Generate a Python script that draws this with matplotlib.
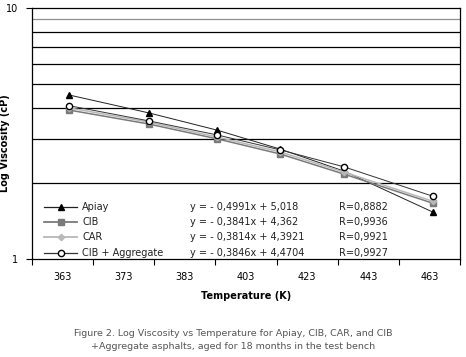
import numpy as np
import matplotlib.pyplot as plt

# category slots on the x axis, labels sit in the middle of each slot
temp_labels = ["363", "373", "383", "403", "423", "443", "463"]
# point positions in slot units
x_pos = [0.61, 1.91, 3.03, 4.06, 5.1, 6.55]

apiay = [4.50, 3.82, 3.26, 2.74, 2.24, 1.54]
cib = [3.92, 3.45, 3.01, 2.62, 2.18, 1.67]
car = [4.00, 3.51, 3.06, 2.67, 2.22, 1.70]
cib_agg = [4.08, 3.55, 3.12, 2.72, 2.33, 1.78]

names = ["Apiay", "CIB", "CAR", "CIB + Aggregate"]
equations = ["y = - 0,4991x + 5,018", "y = - 0,3841x + 4,362",
             "y = - 0,3814x + 4,3921", "y = - 0,3846x + 4,4704"]
r_values = ["R=0,8882", "R=0,9936", "R=0,9921", "R=0,9927"]

fig = plt.figure(figsize=(4.66, 3.57), dpi=100)
ax = fig.add_axes([0.0687, 0.2745, 0.9185, 0.7031])

ax.set_yscale("log")
ax.set_ylim(1, 10)
ax.set_xlim(0, 7)

# horizontal grid lines at 2..9
for v in range(2, 10):
	ax.axhline(v, color="#909090" if v == 9 else "black", lw=0.9, zorder=1)

styles = [
	(apiay, dict(color="#222222", marker="^", ms=4.5, mfc="black", mec="black", lw=0.7)),
	(cib, dict(color="#7a7a7a", marker="s", ms=4.5, mfc="#7a7a7a", mec="#7a7a7a", lw=1.1)),
	(car, dict(color="#b8b8b8", marker="D", ms=3.2, mfc="#b8b8b8", mec="#b8b8b8", lw=1.1)),
	(cib_agg, dict(color="#333333", marker="o", ms=4.5, mfc="white", mec="black", lw=0.7)),
]
for vals, st in styles:
	ax.plot(x_pos, vals, zorder=3, **st)

# legend block with equations
leg_y = [1.61, 1.40, 1.22, 1.06]
for i, y in enumerate(leg_y):
	vals, st = styles[i]
	ax.plot([0.2, 0.74], [y, y], color=st["color"], lw=st["lw"] + 0.2, zorder=2)
	ax.plot([0.47], [y], marker=st["marker"], ms=st["ms"], mfc=st["mfc"], mec=st["mec"], ls="none", zorder=2)
	ax.text(0.82, y, names[i], fontsize=7, va="center", color="#222222")
	ax.text(2.58, y, equations[i], fontsize=7, va="center", color="#222222")
	ax.text(5.02, y, r_values[i], fontsize=7, va="center", color="#222222")

ax.set_yticks([1, 10])
ax.set_yticklabels(["1", "10"], fontsize=7)
ax.yaxis.set_minor_locator(plt.NullLocator())
ax.tick_params(axis="y", direction="out", length=4, width=0.8, pad=6)

ax.set_xticks(np.arange(8))
ax.set_xticklabels([])
ax.set_xticks(np.arange(7) + 0.5, minor=True)
ax.set_xticklabels(temp_labels, minor=True, fontsize=7)
ax.tick_params(axis="x", which="major", direction="out", length=4, width=0.8)
ax.tick_params(axis="x", which="minor", length=0, pad=9)

for s in ax.spines.values():
	s.set_linewidth(0.9)

ax.set_xlabel("Temperature (K)", fontsize=7, fontweight="bold", labelpad=7)
ax.set_ylabel("Log Viscosity (cP)", fontsize=7, fontweight="bold")
ax.yaxis.set_label_coords(-0.052, 0.46)

fig.text(0.5, 0.048, "Figure 2. Log Viscosity vs Temperature for Apiay, CIB, CAR, and CIB\n+Aggregate asphalts, aged for 18 months in the test bench",
	ha="center", va="center", fontsize=6.8, color="#555555", linespacing=1.6)

fig.savefig("out.png", dpi=100)
